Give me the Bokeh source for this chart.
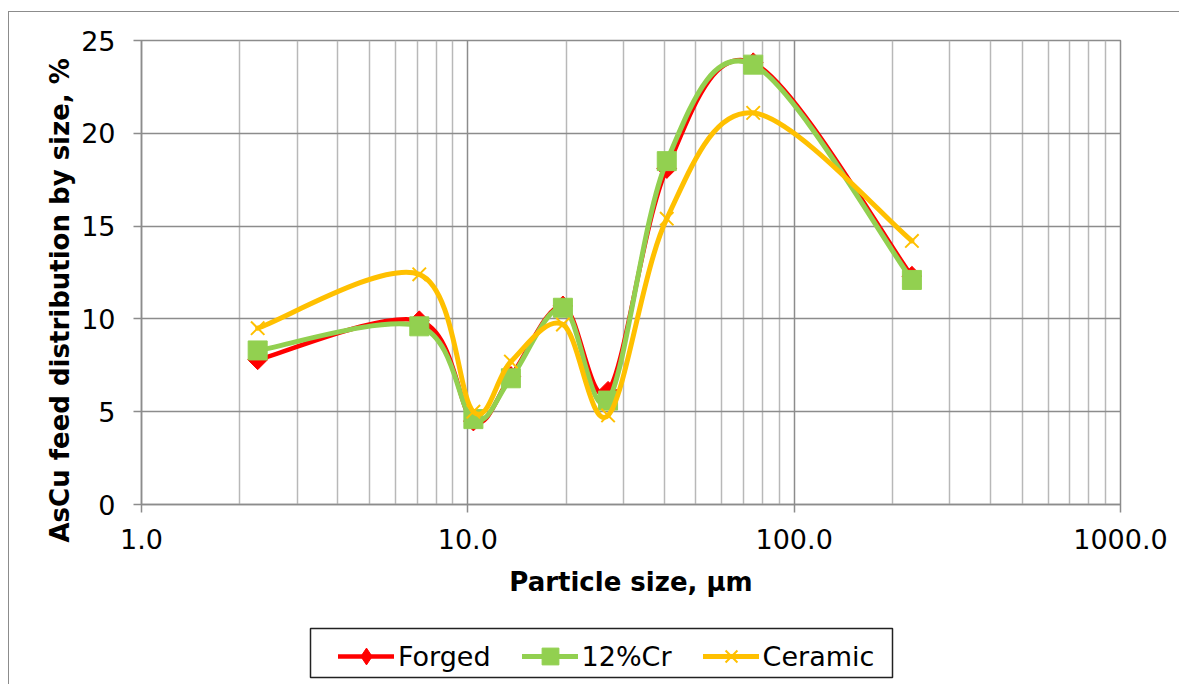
import numpy as np
from bokeh.plotting import figure
from bokeh.layouts import column
from bokeh.models import (FixedTicker, Legend, LegendItem, Range1d, Title,
                          ColumnDataSource, NumeralTickFormatter, BoxAnnotation)
from bokeh.embed import file_html
from bokeh.resources import INLINE

# ---------------- data ----------------
particle_size = [2.27, 7.1, 10.4, 13.55, 19.56, 26.9, 40.7, 74.9, 229.5]
forged = [7.8, 9.9, 4.5, 6.9, 10.7, 6.1, 18.1, 23.8, 12.3]
cr12 = [8.3, 9.6, 4.6, 6.8, 10.6, 5.6, 18.5, 23.7, 12.1]
ceramic = [9.5, 12.4, 5.0, 7.7, 9.7, 4.8, 15.4, 21.1, 14.2]
series_names = ["Forged", "12%Cr", "Ceramic"]
x_ticks = [1, 10, 100, 1000]
x_tick_labels = ["1.0", "10.0", "100.0", "1000.0"]
y_ticks = [0, 5, 10, 15, 20, 25]
x_title = "Particle size, μm"
y_title = "AsCu feed distribution by size, %"

FONT = "DejaVu Sans"
RED, GREEN, YELLOW = "#FF0000", "#92D050", "#FFC000"
GRID_DARK, GRID_LIGHT = "#8c8c8c", "#b8b8b8"


def smooth_segments(xs, ys):
    """Excel-like smoothed line: cubic Bezier segments whose control points
    are computed in (log10 x, y) space from neighbouring data points."""
    lx = np.log10(np.asarray(xs, float))
    y = np.asarray(ys, float)
    n = len(lx)
    d = dict(x0=[], y0=[], x1=[], y1=[], cx0=[], cy0=[], cx1=[], cy1=[])
    for i in range(n - 1):
        a = i - 1 if i > 0 else i
        b = i + 2 if i + 2 < n else i + 1
        c0x = lx[i] + (lx[i + 1] - lx[a]) / 6.0
        c0y = y[i] + (y[i + 1] - y[a]) / 6.0
        c1x = lx[i + 1] - (lx[b] - lx[i]) / 6.0
        c1y = y[i + 1] - (y[b] - y[i]) / 6.0
        d["x0"].append(10 ** lx[i]); d["y0"].append(y[i])
        d["x1"].append(10 ** lx[i + 1]); d["y1"].append(y[i + 1])
        d["cx0"].append(10 ** c0x); d["cy0"].append(c0y)
        d["cx1"].append(10 ** c1x); d["cy1"].append(c1y)
    return ColumnDataSource(d)


W = 1170
p = figure(width=W, height=600, x_axis_type="log",
           x_range=Range1d(1, 1000), y_range=Range1d(0, 25),
           output_backend="svg", toolbar_location=None,
           min_border_left=132, min_border_right=59,
           min_border_top=28, min_border_bottom=108)
p.background_fill_color = "white"
p.border_fill_color = "white"
p.outline_line_color = GRID_DARK
p.outline_line_width = 1.5

# axes
minor = [m * 10 ** e for e in range(0, 3) for m in range(2, 10)]
p.xaxis.ticker = FixedTicker(ticks=x_ticks, minor_ticks=minor)
p.xaxis.formatter = NumeralTickFormatter(format="0.0")
p.xaxis.major_label_overrides = {t: l for t, l in zip(x_ticks, x_tick_labels)}
p.yaxis.ticker = FixedTicker(ticks=y_ticks)

for ax in (p.xaxis[0], p.yaxis[0]):
    ax.axis_line_color = GRID_DARK
    ax.axis_line_width = 1.5
    ax.major_tick_line_color = GRID_DARK
    ax.major_tick_line_width = 1.5
    ax.major_tick_out = 8
    ax.major_tick_in = 0
    ax.minor_tick_out = 0
    ax.minor_tick_in = 0
    ax.major_label_text_font = FONT
    ax.major_label_text_font_size = "27px"
    ax.major_label_text_color = "black"

p.xaxis.major_label_standoff = 16
p.yaxis.major_label_standoff = 18

p.xaxis.axis_label = x_title
p.xaxis.axis_label_text_font = FONT
p.xaxis.axis_label_text_font_size = "26px"
p.xaxis.axis_label_text_font_style = "bold"
p.xaxis.axis_label_text_color = "black"
p.xaxis.axis_label_standoff = 15

# grids
p.xgrid.grid_line_color = GRID_DARK
p.xgrid.grid_line_width = 1.5
p.xgrid.minor_grid_line_color = GRID_LIGHT
p.xgrid.minor_grid_line_width = 1.5
p.ygrid.grid_line_color = GRID_DARK
p.ygrid.grid_line_width = 1.5

# y title in the left side panel, shifted slightly below the frame centre
p.add_layout(Title(text=y_title, align="left", offset=-38, standoff=8,
                   text_font=FONT, text_font_size="26px",
                   text_font_style="bold", text_color="black"), "left")

# legend lives in a second, axis-less figure right below the chart
lg = figure(width=W, height=72, x_range=Range1d(0, 1), y_range=Range1d(0, 1),
            output_backend="svg", toolbar_location=None,
            x_axis_location=None, y_axis_location=None, min_border=0)
lg.grid.visible = False
lg.outline_line_color = None
lg.background_fill_color = "white"
lg.border_fill_color = "white"

# legend frame box (screen units, relative to the legend figure's frame)
lg.add_layout(BoxAnnotation(left=169, right=751, bottom=7, top=56,
                            left_units="screen", right_units="screen",
                            top_units="screen", bottom_units="screen",
                            fill_alpha=0, line_color="#222222", line_width=1.5,
                            line_alpha=1.0))

# series
specs = [
    (forged, RED, 4.5, dict(marker="square", size=14, angle=np.pi / 4), "diamond"),
    (cr12, GREEN, 5, dict(marker="square", size=19), "square"),
    (ceramic, YELLOW, 5, dict(marker="x", size=19), "x"),
]
items = []
for name, (vals, col, lw, mk, legmk) in zip(series_names, specs):
    p.bezier(x0="x0", y0="y0", x1="x1", y1="y1", cx0="cx0", cy0="cy0",
             cx1="cx1", cy1="cy1", source=smooth_segments(particle_size, vals),
             line_color=col, line_width=lw, line_cap="round")
    if mk["marker"] == "x":
        p.scatter(particle_size, vals, line_color=col, line_width=2, **mk)
    else:
        p.scatter(particle_size, vals, fill_color=col, line_color=col, line_width=1, **mk)
    # legend-only renderers: the same data, lying outside the legend
    # figure's (0..1) ranges, so only their legend glyphs are visible
    leg_line = lg.line(particle_size, vals, line_color=col, line_width=lw,
                       line_cap="round")
    if legmk == "x":
        leg_mk = lg.scatter(particle_size, vals, marker="x", line_color=col,
                            line_width=2)
    else:
        leg_mk = lg.scatter(particle_size, vals, marker=legmk, fill_color=col,
                            line_color=col)
    items.append(LegendItem(label=name, renderers=[leg_line, leg_mk]))

legend = Legend(items=items, orientation="horizontal", location=(197, 7),
                padding=4, spacing=31, glyph_width=56, glyph_height=42,
                label_standoff=4, label_text_font=FONT,
                label_text_font_size="27px", label_text_color="black",
                border_line_color=None, background_fill_alpha=0.0)
lg.add_layout(legend, "center")

page = column(p, lg, spacing=0)
page.styles = {"margin-left": "8px", "margin-top": "11px",
               "border-top": "1px solid #8c8c8c", "border-left": "1px solid #8c8c8c"}

open("out.html", "w").write(file_html(page, INLINE))
